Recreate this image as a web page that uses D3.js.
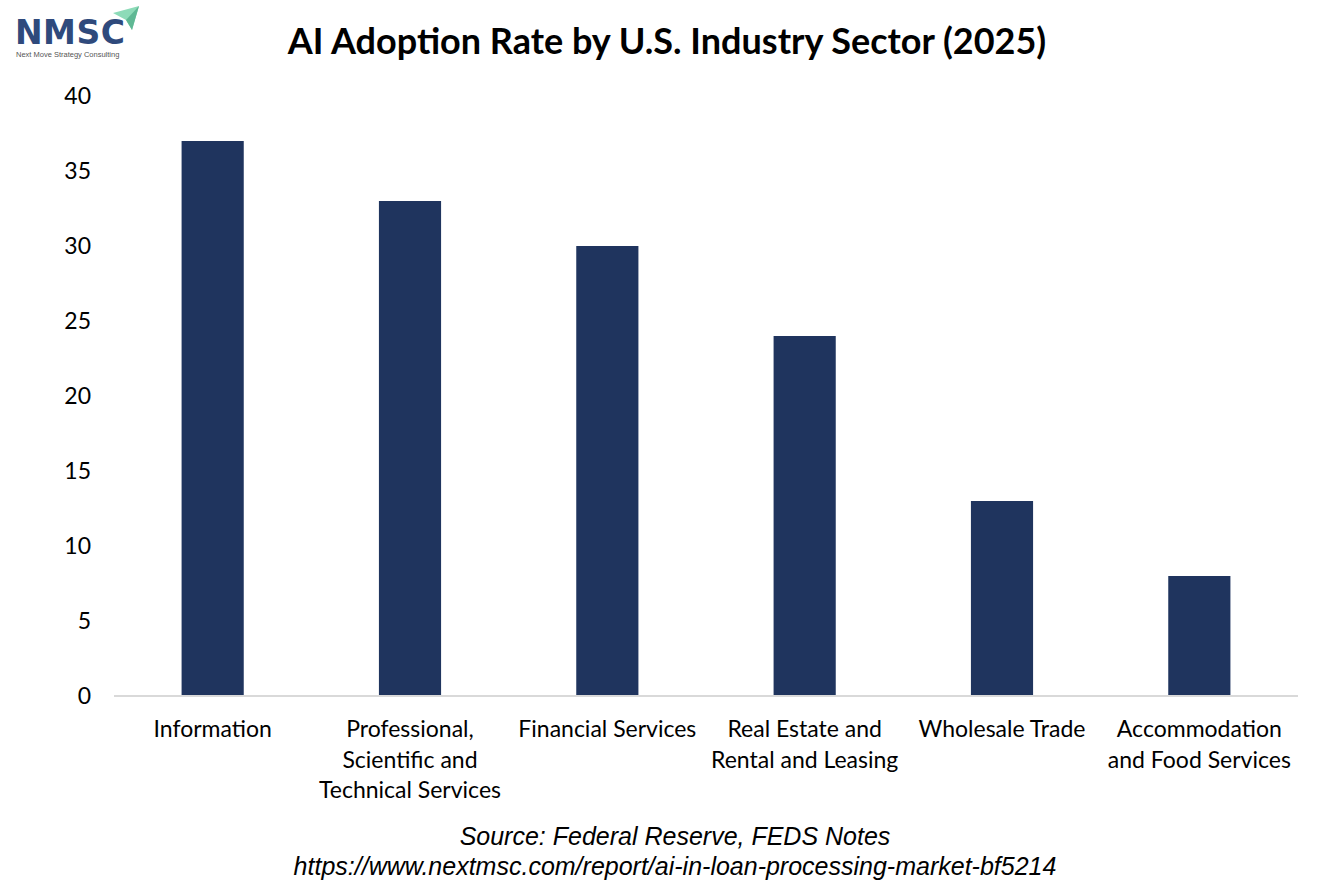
<!DOCTYPE html>
<html>
<head>
<meta charset="utf-8">
<script src="https://cdn.jsdelivr.net/npm/d3@7"></script>
<style>
  body { margin: 0; background: #fff; }
  svg { display: block; }
</style>
</head>
<body>
<svg id="chart" width="1334" height="889"></svg>
<script>
// Chart data
const sectors = [
    ["Information"],
    ["Professional,", "Scientific and", "Technical Services"],
    ["Financial Services"],
    ["Real Estate and", "Rental and Leasing"],
    ["Wholesale Trade"],
    ["Accommodation", "and Food Services"]
];
const adoption = [37, 33, 30, 24, 13, 8];
const yTicks = [0, 5, 10, 15, 20, 25, 30, 35, 40];

const svg = d3.select("#chart");
const font = "Lato, 'Open Sans', sans-serif";

// plot area
const plotLeft = 114, plotRight = 1298, plotTop = 96, plotBottom = 696;

const x = d3.scaleBand()
    .domain(d3.range(sectors.length))
    .range([plotLeft, plotRight])
    .paddingInner(0.685)
    .paddingOuter(0.3425);

const y = d3.scaleLinear().domain([0, 40]).range([plotBottom, plotTop]);

// bars
svg.selectAll("rect.bar")
    .data(adoption)
    .enter().append("rect")
    .attr("class", "bar")
    .attr("x", (d, i) => x(i))
    .attr("width", x.bandwidth())
    .attr("y", d => y(d))
    .attr("height", d => y(0) - y(d))
    .attr("fill", "#1f345e");

// y axis labels
const yAxis = svg.append("g")
    .attr("transform", `translate(${plotLeft},0)`)
    .call(d3.axisLeft(y).tickValues(yTicks).tickSize(0).tickPadding(23));
yAxis.select(".domain").remove();
yAxis.selectAll("text")
    .attr("font-family", font)
    .attr("font-size", 23)
    .attr("fill", "#000");

// baseline
svg.append("line")
    .attr("x1", plotLeft).attr("x2", plotRight)
    .attr("y1", y(0)).attr("y2", y(0))
    .attr("stroke", "#d9d9d9").attr("stroke-width", 2);

// category labels
const cats = svg.append("g");
sectors.forEach((lines, i) => {
    const t = cats.append("text")
        .attr("x", x(i) + x.bandwidth() / 2)
        .attr("y", 737)
        .attr("text-anchor", "middle")
        .attr("font-family", font)
        .attr("font-size", 23)
        .attr("fill", "#000");
    lines.forEach((l, j) => {
        t.append("tspan")
            .attr("x", x(i) + x.bandwidth() / 2)
            .attr("dy", j === 0 ? 0 : 30.5)
            .text(l);
    });
});

// title
svg.append("text")
    .attr("x", 667).attr("y", 54)
    .attr("text-anchor", "middle")
    .attr("font-family", font)
    .attr("font-weight", "bold")
    .attr("font-size", 36)
    .attr("fill", "#000")
    .text("AI Adoption Rate by U.S. Industry Sector (2025)");

// source
svg.append("text")
    .attr("x", 675).attr("y", 845)
    .attr("text-anchor", "middle")
    .attr("font-family", "'Liberation Sans', Arial, sans-serif")
    .attr("font-style", "italic")
    .attr("font-size", 25)
    .attr("fill", "#000")
    .text("Source: Federal Reserve, FEDS Notes");

svg.append("text")
    .attr("x", 675).attr("y", 875)
    .attr("text-anchor", "middle")
    .attr("font-family", "'Liberation Sans', Arial, sans-serif")
    .attr("font-style", "italic")
    .attr("font-size", 25)
    .attr("fill", "#000")
    .text("https://www.nextmsc.com/report/ai-in-loan-processing-market-bf5214");

// logo
const logo = svg.append("g");
logo.append("path")
    .attr("d", "M113,13 L139,6 L132,30 L126,20 Z")
    .attr("fill", "#8ddbb8");
logo.append("path")
    .attr("d", "M126,20 L139,6 L132,30 Z")
    .attr("fill", "#5fb894");
logo.append("text")
    .attr("x", 15).attr("y", 44)
    .attr("font-family", "'DejaVu Sans', sans-serif")
    .attr("font-weight", "bold")
    .attr("font-size", 33)
    .attr("letter-spacing", 0.5)
    .attr("fill", "#2f4a7c")
    .text("NMSC");
logo.append("text")
    .attr("x", 16).attr("y", 57)
    .attr("font-family", "'Liberation Sans', Arial, sans-serif")
    .attr("font-size", 7.5)
    .attr("fill", "#555")
    .text("Next Move Strategy Consulting");
</script>
</body>
</html>
